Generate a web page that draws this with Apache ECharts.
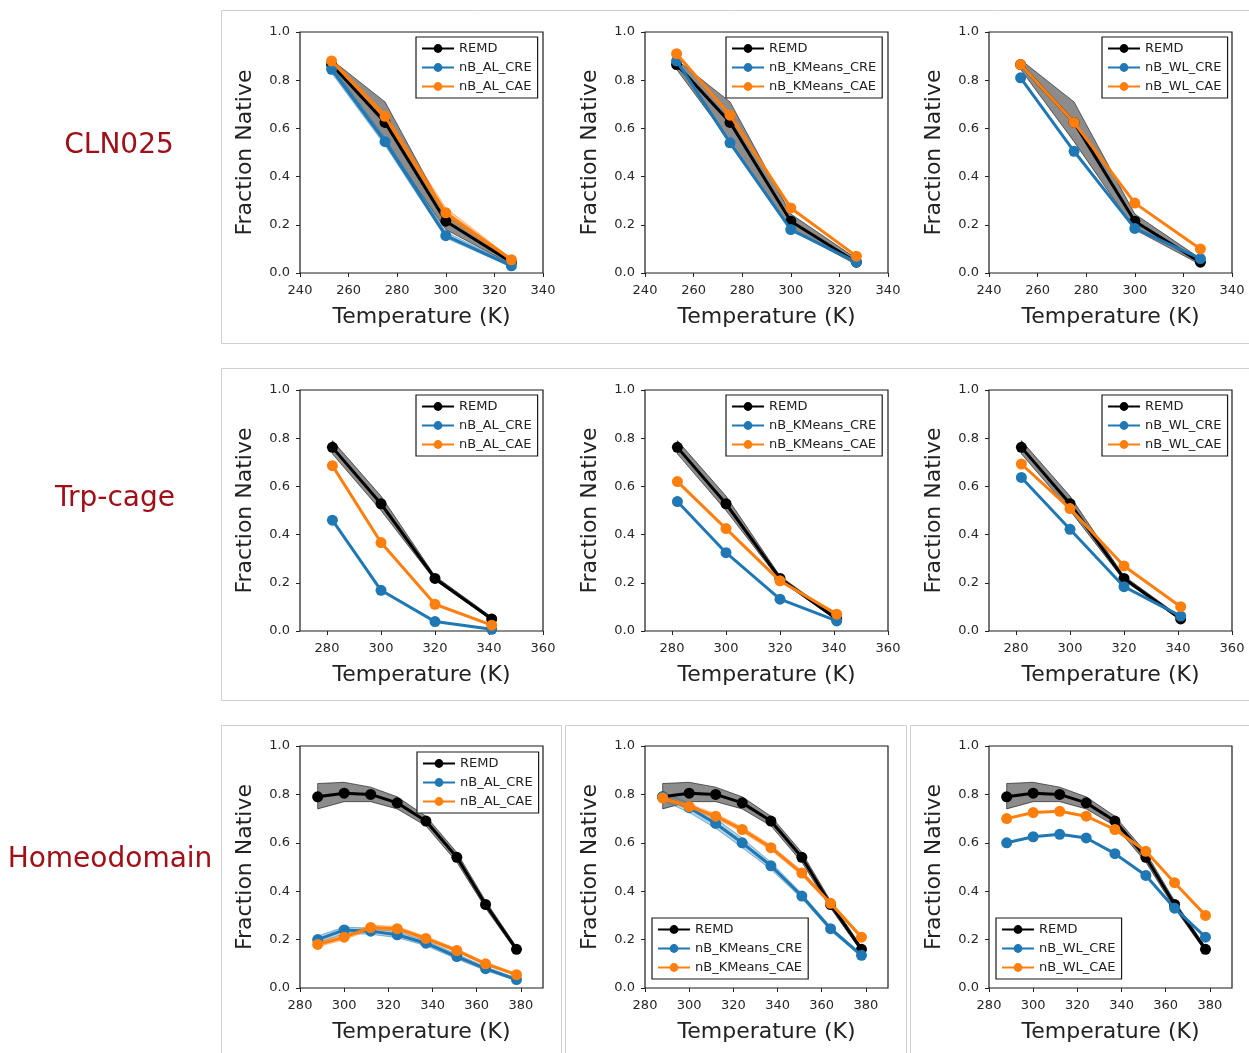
<!DOCTYPE html>
<html>
<head>
<meta charset="utf-8">
<script src="https://cdn.jsdelivr.net/npm/echarts@6/dist/echarts.min.js"></script>
<style>
  html, body { margin: 0; padding: 0; background: #fff; }
  #chart { width: 1249px; height: 1053px; }
</style>
</head>
<body>
<div id="chart"></div>
<script>
// ---- CLN025 ----
const clnTemps = [253, 275, 300, 327];
const clnRemd = [0.865, 0.625, 0.215, 0.045];
const clnRemdLo = [0.845, 0.545, 0.18, 0.035];
const clnRemdHi = [0.885, 0.71, 0.245, 0.06];
const clnAlCre = [0.845, 0.545, 0.155, 0.03];
const clnAlCreLo = [0.83, 0.53, 0.145, 0.025];
const clnAlCreHi = [0.86, 0.56, 0.17, 0.035];
const clnAlCae = [0.88, 0.65, 0.25, 0.055];
const clnAlCaeLo = [0.87, 0.635, 0.23, 0.05];
const clnAlCaeHi = [0.89, 0.665, 0.27, 0.06];
const clnKmCre = [0.88, 0.54, 0.18, 0.045];
const clnKmCae = [0.91, 0.655, 0.27, 0.07];
const clnWlCre = [0.81, 0.505, 0.185, 0.06];
const clnWlCae = [0.865, 0.625, 0.29, 0.10];

// ---- Trp-cage ----
const trpTemps = [282, 300, 320, 341];
const trpRemd = [0.762, 0.528, 0.218, 0.05];
const trpRemdLo = [0.735, 0.50, 0.21, 0.045];
const trpRemdHi = [0.79, 0.56, 0.228, 0.058];
const trpAlCre = [0.46, 0.169, 0.039, 0.007];
const trpAlCae = [0.686, 0.367, 0.111, 0.024];
const trpKmCre = [0.537, 0.325, 0.132, 0.042];
const trpKmCae = [0.62, 0.425, 0.208, 0.07];
const trpWlCre = [0.637, 0.422, 0.184, 0.062];
const trpWlCae = [0.693, 0.508, 0.27, 0.101];

// ---- Homeodomain ----
const hdTemps = [288, 300, 312, 324, 337, 351, 364, 378];
const hdRemd = [0.79, 0.805, 0.80, 0.765, 0.69, 0.54, 0.345, 0.16];
const hdRemdLo = [0.74, 0.77, 0.77, 0.74, 0.67, 0.52, 0.33, 0.15];
const hdRemdHi = [0.845, 0.85, 0.83, 0.79, 0.71, 0.56, 0.36, 0.17];
const hdAlCre = [0.20, 0.24, 0.235, 0.22, 0.185, 0.13, 0.08, 0.035];
const hdAlCreLo = [0.185, 0.225, 0.222, 0.208, 0.175, 0.12, 0.072, 0.03];
const hdAlCreHi = [0.215, 0.252, 0.247, 0.232, 0.195, 0.14, 0.088, 0.04];
const hdAlCae = [0.18, 0.21, 0.25, 0.245, 0.205, 0.155, 0.10, 0.055];
const hdAlCaeLo = [0.17, 0.20, 0.24, 0.236, 0.197, 0.148, 0.094, 0.05];
const hdAlCaeHi = [0.19, 0.22, 0.26, 0.254, 0.213, 0.162, 0.106, 0.06];
const hdKmCre = [0.79, 0.745, 0.68, 0.60, 0.505, 0.38, 0.245, 0.135];
const hdKmCreLo = [0.775, 0.725, 0.66, 0.58, 0.49, 0.37, 0.237, 0.128];
const hdKmCreHi = [0.805, 0.765, 0.70, 0.62, 0.52, 0.39, 0.253, 0.142];
const hdKmCae = [0.785, 0.75, 0.71, 0.655, 0.58, 0.475, 0.35, 0.21];
const hdKmCaeLo = [0.775, 0.74, 0.70, 0.645, 0.57, 0.465, 0.342, 0.203];
const hdKmCaeHi = [0.795, 0.76, 0.72, 0.665, 0.59, 0.485, 0.358, 0.217];
const hdWlCre = [0.60, 0.625, 0.635, 0.62, 0.555, 0.465, 0.33, 0.21];
const hdWlCae = [0.70, 0.725, 0.73, 0.71, 0.655, 0.565, 0.435, 0.30];

// axis ticks
const yTicks = [0, 0.2, 0.4, 0.6, 0.8, 1.0];
const clnXTicks = [240, 260, 280, 300, 320, 340];
const trpXTicks = [280, 300, 320, 340, 360];
const hdXTicks = [280, 300, 320, 340, 360, 380];

const rowLabels = ['CLN025', 'Trp-cage', 'Homeodomain'];

const BLACK = '#000000', BLUE = '#1f77b4', ORANGE = '#ff7f0e';
const FONT = '"DejaVu Sans", Verdana, sans-serif';

// one entry per subplot
const panels = [
  { row: 0, col: 0, temps: clnTemps, remd: [clnRemd, clnRemdLo, clnRemdHi],
    cre: ['nB_AL_CRE', clnAlCre, clnAlCreLo, clnAlCreHi], cae: ['nB_AL_CAE', clnAlCae, clnAlCaeLo, clnAlCaeHi], leg: [416, 37] },
  { row: 0, col: 1, temps: clnTemps, remd: [clnRemd, clnRemdLo, clnRemdHi],
    cre: ['nB_KMeans_CRE', clnKmCre], cae: ['nB_KMeans_CAE', clnKmCae], leg: [726, 37] },
  { row: 0, col: 2, temps: clnTemps, remd: [clnRemd, clnRemdLo, clnRemdHi],
    cre: ['nB_WL_CRE', clnWlCre], cae: ['nB_WL_CAE', clnWlCae], leg: [1102, 37] },
  { row: 1, col: 0, temps: trpTemps, remd: [trpRemd, trpRemdLo, trpRemdHi],
    cre: ['nB_AL_CRE', trpAlCre], cae: ['nB_AL_CAE', trpAlCae], leg: [416, 395] },
  { row: 1, col: 1, temps: trpTemps, remd: [trpRemd, trpRemdLo, trpRemdHi],
    cre: ['nB_KMeans_CRE', trpKmCre], cae: ['nB_KMeans_CAE', trpKmCae], leg: [726, 395] },
  { row: 1, col: 2, temps: trpTemps, remd: [trpRemd, trpRemdLo, trpRemdHi],
    cre: ['nB_WL_CRE', trpWlCre], cae: ['nB_WL_CAE', trpWlCae], leg: [1102, 395] },
  { row: 2, col: 0, temps: hdTemps, remd: [hdRemd, hdRemdLo, hdRemdHi],
    cre: ['nB_AL_CRE', hdAlCre, hdAlCreLo, hdAlCreHi], cae: ['nB_AL_CAE', hdAlCae, hdAlCaeLo, hdAlCaeHi], leg: [417, 752] },
  { row: 2, col: 1, temps: hdTemps, remd: [hdRemd, hdRemdLo, hdRemdHi],
    cre: ['nB_KMeans_CRE', hdKmCre, hdKmCreLo, hdKmCreHi], cae: ['nB_KMeans_CAE', hdKmCae, hdKmCaeLo, hdKmCaeHi], leg: [652, 918] },
  { row: 2, col: 2, temps: hdTemps, remd: [hdRemd, hdRemdLo, hdRemdHi],
    cre: ['nB_WL_CRE', hdWlCre], cae: ['nB_WL_CAE', hdWlCae], leg: [996, 918] }
];

const rowTop = [32, 390, 746];
const rowHeight = [241, 241, 242];
const colLeft = [300, 645, 989];
const xRange = [[240, 340, clnXTicks], [270, 360, trpXTicks], [280, 390, hdXTicks]];

const grids = [], xAxes = [], yAxes = [], series = [], legends = [];

function band(i, temps, lo, hi, fill, stroke) {
  return {
    type: 'custom', xAxisIndex: i, yAxisIndex: i, silent: true, z: 1,
    data: temps.map((t, k) => [t, lo[k], hi[k]]),
    encode: { x: 0, y: [1, 2] },
    renderItem: function (params, api) {
      if (params.dataIndex !== 0) return null;
      const top = temps.map((t, k) => api.coord([t, hi[k]]));
      const bot = temps.map((t, k) => api.coord([t, lo[k]])).reverse();
      return { type: 'polygon', shape: { points: top.concat(bot) },
               style: { fill: fill, stroke: stroke, lineWidth: 1 } };
    }
  };
}

function line(i, name, temps, vals, color, z) {
  return {
    type: 'line', name: name, xAxisIndex: i, yAxisIndex: i, z: z,
    data: temps.map((t, k) => [t, vals[k]]),
    symbol: 'circle', symbolSize: 11, showSymbol: true,
    lineStyle: { color: color, width: 3 },
    itemStyle: { color: color },
    emphasis: { disabled: true }
  };
}

panels.forEach((p, i) => {
  const [xmin, xmax, xt] = xRange[p.row];
  grids.push({ left: colLeft[p.col], top: rowTop[p.row], width: 243, height: rowHeight[p.row],
               show: true, borderColor: '#1a1a1a', borderWidth: 1.2, backgroundColor: '#fff' });
  xAxes.push({
    type: 'value', gridIndex: i, min: xmin, max: xmax,
    name: 'Temperature (K)', nameLocation: 'middle', nameGap: 33,
    nameTextStyle: { fontFamily: FONT, fontSize: 22, color: '#222' },
    axisLine: { show: false },
    axisTick: { show: true, length: 4, lineStyle: { color: '#222', width: 1 }, customValues: xt },
    axisLabel: { fontFamily: FONT, fontSize: 13, color: '#262626', margin: 11, customValues: xt },
    splitLine: { show: false }
  });
  yAxes.push({
    type: 'value', gridIndex: i, min: 0, max: 1,
    name: 'Fraction Native', nameLocation: 'middle', nameGap: 44,
    nameTextStyle: { fontFamily: FONT, fontSize: 22, color: '#222' },
    axisLine: { show: false },
    axisTick: { show: true, length: 4, lineStyle: { color: '#222', width: 1 }, customValues: yTicks },
    axisLabel: { fontFamily: FONT, fontSize: 13, color: '#262626', margin: 10, customValues: yTicks,
                 formatter: v => v.toFixed(1) },
    splitLine: { show: false }
  });

  series.push(band(i, p.temps, p.remd[1], p.remd[2], 'rgba(0,0,0,0.45)', 'rgba(0,0,0,0.55)'));
  series.push(line(i, 'REMD', p.temps, p.remd[0], BLACK, 3));
  if (p.cre[2]) series.push(band(i, p.temps, p.cre[2], p.cre[3], 'rgba(31,119,180,0.35)', 'rgba(31,119,180,0.5)'));
  series.push(line(i, p.cre[0], p.temps, p.cre[1], BLUE, 4));
  if (p.cae[2]) series.push(band(i, p.temps, p.cae[2], p.cae[3], 'rgba(255,127,14,0.35)', 'rgba(255,127,14,0.5)'));
  series.push(line(i, p.cae[0], p.temps, p.cae[1], ORANGE, 5));

  legends.push({
    left: p.leg[0], top: p.leg[1], orient: 'vertical',
    data: ['REMD', p.cre[0], p.cae[0]],
    backgroundColor: '#fff', borderColor: '#1a1a1a', borderWidth: 1.2, borderRadius: 0,
    padding: [5, 6, 5, 5], itemGap: 6, itemWidth: 32, itemHeight: 11,
    textStyle: { fontFamily: FONT, fontSize: 13, color: '#222' },
    selectedMode: false, z: 10
  });
});

// light frames around each subplot image and the row names
const frame = (x, y, w, h) => ({ type: 'rect', silent: true, z: -10,
  shape: { x: x, y: y, width: w, height: h },
  style: { fill: 'none', stroke: '#cfcfcf', lineWidth: 1 } });
const rowLabelText = (txt, x, y) => ({ type: 'text', silent: true, x: x, y: y,
  style: { text: txt, fill: '#a00f18', font: '28px ' + FONT, textAlign: 'center', textVerticalAlign: 'middle' } });

const graphic = [
  frame(221.5, 10.5, 1100, 333),
  frame(221.5, 368.5, 1100, 332),
  frame(221.5, 725.5, 340, 340),
  frame(565.5, 725.5, 341, 340),
  frame(910.5, 725.5, 400, 340),
  rowLabelText(rowLabels[0], 119, 146),
  rowLabelText(rowLabels[1], 115, 499),
  rowLabelText(rowLabels[2], 110, 860)
];

const chart = echarts.init(document.getElementById('chart'), null, { renderer: 'canvas' });
chart.setOption({
  animation: false,
  backgroundColor: '#fff',
  grid: grids, xAxis: xAxes, yAxis: yAxes,
  legend: legends, series: series, graphic: graphic
});
</script>
</body>
</html>
